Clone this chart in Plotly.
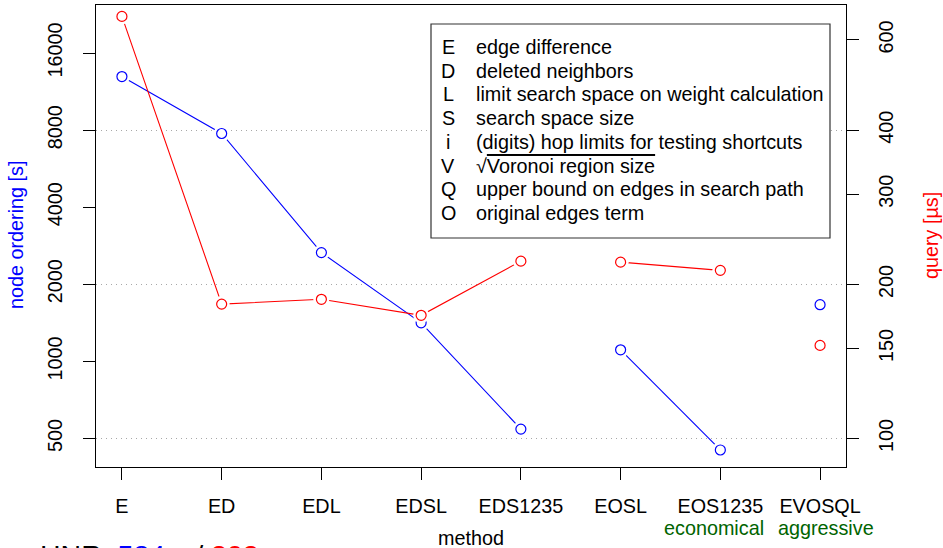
import plotly.graph_objects as go
import math

# ---------------- data ----------------
methods = ["E", "ED", "EDL", "EDSL", "EDS1235", "EOSL", "EOS1235", "EVOSQL"]
node_ordering_s = [12950, 7760, 2660, 1415, 544, 1110, 451, 1665]
query_us = [667, 183, 187, 174, 222, 221, 213, 152]
line_group = [0, 0, 0, 0, 0, 1, 1, 2]
left_ticks = [500, 1000, 2000, 4000, 8000, 16000]
right_ticks = [100, 150, 200, 300, 400, 600]
grid_ticks = [500, 2000, 8000]
legend_keys = ["E", "D", "L", "S", "i", "V", "Q", "O"]
legend_texts = ["edge difference", "deleted neighbors",
                "limit search space on weight calculation", "search space size",
                "(digits) hop limits for testing shortcuts",
                "√<span style='text-decoration:overline'>Voronoi region size</span>",
                "upper bound on edges in search path", "original edges term"]
sub_labels = {"EOS1235": ("economical", -6), "EVOSQL": ("aggressive", 6)}
hnr_node, hnr_query = 584, 202

# ---------------- layout helpers ----------------
W, H = 943, 548
ML, MR, MT, MB = 96, 97, 5, 81
PW, PH = W - ML - MR, H - MT - MB
def px(x):
    return (x - ML) / PW
def py(y):
    return (H - MB - y) / PH

FONT = "Liberation Sans, Arial, sans-serif"
FS = 19.8
x_range = [-0.26, 7.26]
left_range = [math.log10(387), math.log10(24640)]
right_range = [math.log10(88), math.log10(702)]

def with_gaps(vals):
    xs, ys = [], []
    for i, v in enumerate(vals):
        if i > 0 and line_group[i] != line_group[i - 1]:
            xs.append(None); ys.append(None)
        xs.append(i); ys.append(v)
    return xs, ys

fig = go.Figure()
idx = list(range(len(methods)))
for vals, col, ax in [(node_ordering_s, "blue", "y"), (query_us, "red", "y2")]:
    lx, ly = with_gaps(vals)
    fig.add_trace(go.Scatter(x=lx, y=ly, yaxis=ax, mode="lines",
                             line=dict(color=col, width=1.1), showlegend=False,
                             hoverinfo="skip"))
for vals, col, ax in [(node_ordering_s, "blue", "y"), (query_us, "red", "y2")]:
    fig.add_trace(go.Scatter(x=idx, y=vals, yaxis=ax, mode="markers",
                             marker=dict(symbol="circle", size=16, color="white",
                                         line=dict(width=0)),
                             showlegend=False, hoverinfo="skip"))
for vals, col, ax in [(node_ordering_s, "blue", "y"), (query_us, "red", "y2")]:
    fig.add_trace(go.Scatter(x=idx, y=vals, yaxis=ax, mode="markers",
                             marker=dict(symbol="circle-open", size=10, color=col,
                                         line=dict(width=1.2, color=col)),
                             showlegend=False))

axis_common = dict(showline=True, linecolor="black", linewidth=1, ticks="outside",
                   ticklen=12, tickwidth=1, tickcolor="black", zeroline=False,
                   tickfont=dict(family=FONT, size=FS, color="black"))

fig.update_layout(
    width=W, height=H, margin=dict(l=ML, r=MR, t=MT, b=MB, autoexpand=False),
    paper_bgcolor="white", plot_bgcolor="white", showlegend=False,
    font=dict(family=FONT, size=FS, color="black"),
    xaxis=dict(range=x_range, tickvals=idx, ticktext=methods, showgrid=False,
               mirror=True, ticklabelstandoff=9, automargin=False, **axis_common),
    yaxis=dict(type="log", range=left_range, tickvals=left_ticks,
               ticktext=[str(v) for v in left_ticks], tickangle=-90,
               ticklabelstandoff=13, automargin=False,
               showgrid=False, **axis_common),
    yaxis2=dict(type="log", range=right_range, tickvals=right_ticks,
                ticktext=[str(v) for v in right_ticks], tickangle=-90,
                ticklabelstandoff=10, automargin=False,
                overlaying="y", side="right", showgrid=False, **axis_common),
    yaxis3=dict(type="log", range=left_range, tickvals=grid_ticks, overlaying="y",
                showgrid=True, gridcolor="#a8a8a8", griddash="1px,4px", gridwidth=1,
                showticklabels=False, ticks="", showline=False, zeroline=False),
)
# dummy trace to activate yaxis3 grid
fig.add_trace(go.Scatter(x=[None], y=[None], yaxis="y3", showlegend=False))

# legend box
fig.add_shape(type="rect", xref="paper", yref="paper", x0=px(431), x1=px(830),
              y0=py(238), y1=py(24), line=dict(color="#333333", width=1.2),
              fillcolor="white", layer="above")
row_y0, row_dy = 47, 23.7
for k, (key, txt) in enumerate(zip(legend_keys, legend_texts)):
    yy = py(row_y0 + k * row_dy)
    fig.add_annotation(xref="paper", yref="paper", x=px(448), y=yy, text=key,
                       showarrow=False, xanchor="center", yanchor="middle",
                       font=dict(family=FONT, size=FS, color="black"))
    fig.add_annotation(xref="paper", yref="paper", x=px(474), y=yy, text=txt,
                       showarrow=False, xanchor="left", yanchor="middle",
                       font=dict(family=FONT, size=FS, color="black"))

# sub labels
for m, (lab, shift) in sub_labels.items():
    fig.add_annotation(xref="x", yref="paper", x=methods.index(m), y=py(528),
                       text=lab, showarrow=False, xanchor="center", yanchor="middle",
                       xshift=shift,
                       font=dict(family=FONT, size=FS, color="#006400"))

# axis titles
fig.add_annotation(xref="paper", yref="paper", x=px(471), y=py(538), text="method",
                   showarrow=False, xanchor="center", yanchor="middle",
                   font=dict(family=FONT, size=FS, color="black"))
fig.add_annotation(xref="paper", yref="paper", x=px(16), y=py(235),
                   text="node ordering [s]", textangle=-90, showarrow=False,
                   xanchor="center", yanchor="middle",
                   font=dict(family=FONT, size=FS, color="blue"))
fig.add_annotation(xref="paper", yref="paper", x=px(931), y=py(236),
                   text="query [µs]", textangle=-90, showarrow=False,
                   xanchor="center", yanchor="middle",
                   font=dict(family=FONT, size=FS, color="red"))

# bottom HNR text (partly outside the view)
fig.add_annotation(xref="paper", yref="paper", x=px(38), y=py(537),
                   text=f"HNR: <span style='color:blue'>{hnr_node}</span> s / "
                        f"<span style='color:red'>{hnr_query}</span> µs",
                   showarrow=False, xanchor="left", yanchor="top",
                   font=dict(family=FONT, size=28.5, color="black"))

fig.write_html("out.html", config={"displayModeBar": False},
               post_script="document.body.style.margin='0px';"
                           "document.body.style.overflow='hidden';")
